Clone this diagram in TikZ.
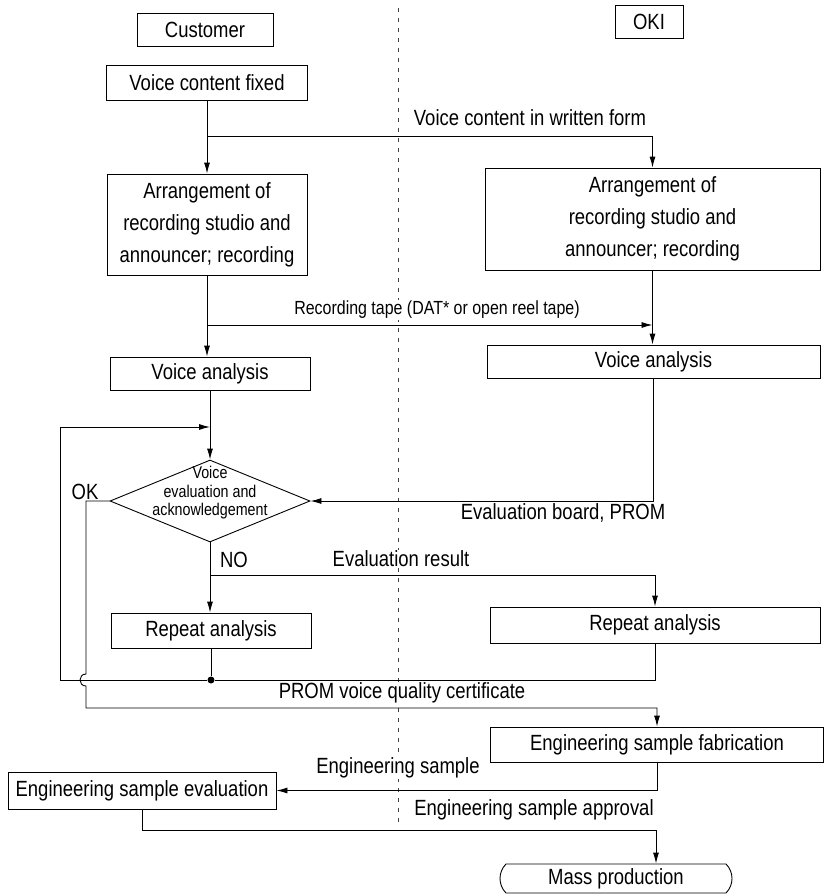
\documentclass[tikz,border=0pt]{standalone}
\usepackage{fontspec}
\setmainfont{Liberation Sans}[FakeStretch=0.84]
\usepackage{tikz}
\usetikzlibrary{arrows.meta,shapes.geometric,shapes.misc,calc}

\begin{document}
\begin{tikzpicture}[x=1pt,y=-1pt,
  box/.style={draw,line width=0.9pt,inner sep=0pt,align=center,font=\fontsize{22}{32}\selectfont},
  lbl/.style={fill=white,inner sep=1pt,font=\fontsize{22}{26}\selectfont},
  arr/.style={line width=0.9pt,-{Latex[length=11pt,width=6pt]}},
  line/.style={line width=0.9pt}]
\useasboundingbox (0,0) rectangle (824,894);
\draw[line width=0.6pt,black!75,dash pattern=on 4pt off 6pt] (398,8) -- (398,822);

\node[lbl] (lwritten) at (530,118) {Voice content in written form};
\node[lbl,font=\fontsize{19}{22}\selectfont] (ltape) at (437,310) {Recording tape (DAT* or open reel tape)};
\node[lbl] (lok) at (85,492) {OK};
\node[lbl] (lboard) at (563,513) {Evaluation board, PROM};
\node[lbl] (lno) at (234,560) {NO};
\node[lbl] (lresult) at (401,559) {Evaluation result};
\node[lbl] (lcert) at (402,693) {PROM voice quality certificate};
\node[lbl] (lsample) at (398,768) {Engineering sample};
\node[lbl] (lapproval) at (534,810) {Engineering sample approval};

\node[box,minimum width=136pt,minimum height=33pt] (cust) at (205,30) {Customer};
\node[box,minimum width=68pt,minimum height=33pt] (oki) at (649,22) {OKI};
\node[box,minimum width=201pt,minimum height=35pt] (vcf) at (207,82.5) {Voice content fixed};
\node[box,minimum width=200pt,minimum height=101pt] (arrL) at (207,224.5) {Arrangement of\\recording studio and\\announcer; recording};
\node[box,minimum width=335pt,minimum height=102pt] (arrR) at (652.5,219) {Arrangement of\\recording studio and\\announcer; recording};
\node[box,minimum width=200pt,minimum height=33pt] (vaL) at (210,373.5) {Voice analysis};
\node[box,minimum width=333pt,minimum height=33pt] (vaR) at (653.5,361.5) {Voice analysis};
\node[draw,line width=0.9pt,diamond,minimum width=200pt,minimum height=82pt,inner sep=0pt] (eval) at (210,501) {};
\node[align=center,inner sep=0pt,font=\fontsize{17}{18.5}\selectfont] (evaltxt) at (210,493) {Voice\\evaluation and\\acknowledgement};
\node[box,minimum width=200pt,minimum height=35pt] (rpL) at (211,630.5) {Repeat analysis};
\node[box,minimum width=330pt,minimum height=36pt] (rpR) at (655,625) {Repeat analysis};
\node[box,minimum width=333pt,minimum height=35pt] (esf) at (657,744.5) {Engineering sample fabrication};
\node[box,minimum width=268pt,minimum height=37pt] (ese) at (142,790.5) {Engineering sample evaluation};
\node[draw,line width=0.9pt,rounded rectangle,rounded rectangle arc length=90,minimum width=232pt,minimum height=29pt,inner sep=0pt,font=\fontsize{22}{26}\selectfont] (mass) at (616,878.5) {Mass production};
\node[circle,fill,inner sep=0pt,minimum size=7pt] (dot) at (211,680) {};

\coordinate (j1) at (207,136);
\coordinate (j2) at (207,325);
\coordinate (j3) at (210,427);
\coordinate (j4) at (210,575);
\coordinate (j6) at (656,830);

\draw[arr] (vcf.south) -- (vcf.south |- arrL.north);
\draw[arr] (j1) -| (arrR.north);
\draw[arr] (arrL.south) -- (arrL.south |- vaL.north);
\draw[arr] (j2) -- (j2 -| arrR.south);
\draw[arr] (arrR.south) -- (arrR.south |- vaR.north);
\draw[arr] (vaL.south) -- (eval.north);
\draw[arr] (vaR.south) |- (eval.east);
\draw[arr] (eval.south) -- (eval.south |- rpL.north);
\draw[arr] (j4) -| (rpR.north);
\draw[line] (rpL.south) -- (dot);
\draw[arr] (rpR.south) |- (dot) -- ++(-151,0) |- (j3);
\draw[arr] (eval.west) -- (86,501) -- (86,674) .. controls (78,674) and (78,686) .. (86,686) -- (86,708) -| (esf.north);
\draw[arr] (esf.south) |- (ese.east);
\draw[arr] (ese.south) |- (j6) -- (j6 |- mass.north);
\end{tikzpicture}
\end{document}
